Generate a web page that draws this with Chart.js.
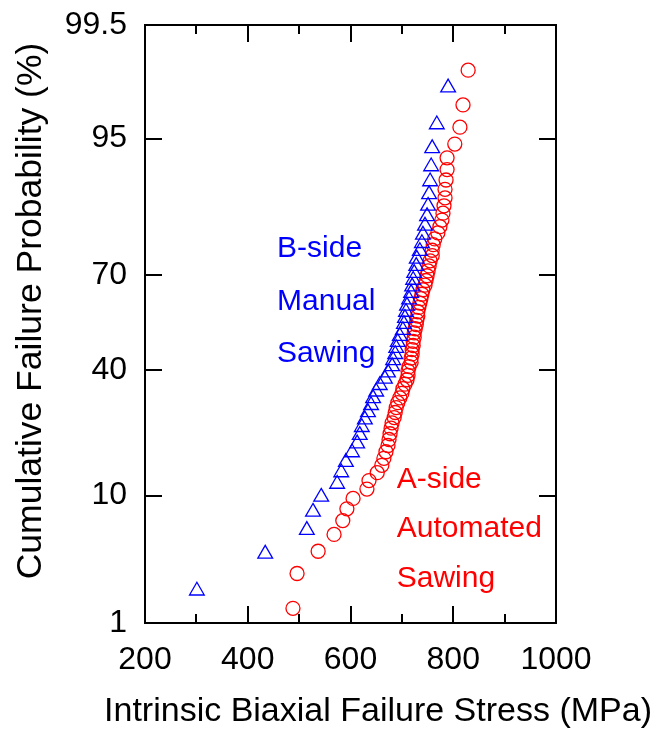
<!DOCTYPE html>
<html>
<head>
<meta charset="utf-8">
<script src="https://cdn.jsdelivr.net/npm/chart.js@4.4.1/dist/chart.umd.min.js"></script>
<style>
  html, body { margin: 0; padding: 0; background: #fff; }
  #chart { display: block; }
</style>
</head>
<body>
<canvas id="chart" width="665" height="730"></canvas>
<script>
// Data
// B-side, manual sawing: failure stress (MPa) and cumulative failure probability (%)
const bStress = [301, 434, 515, 527, 543, 574, 582, 591, 603, 613,
                 618, 622, 628, 634, 640, 644, 650, 657, 667, 673,
                 681, 683, 687, 689, 692, 696, 702, 704, 706, 708,
                 710, 714, 718, 720, 722, 724, 728, 729, 735, 739,
                 741, 745, 749, 751, 753, 755, 757, 759, 768, 790];
const bProb = [1.96, 3.92, 5.88, 7.84, 9.80, 11.76, 13.73, 15.69, 17.65, 19.61,
               21.57, 23.53, 25.49, 27.45, 29.41, 31.37, 33.33, 35.29, 37.25, 39.22,
               41.18, 43.14, 45.10, 47.06, 49.02, 50.98, 52.94, 54.90, 56.86, 58.82,
               60.78, 62.75, 64.71, 66.67, 68.63, 70.59, 72.55, 74.51, 76.47, 78.43,
               80.39, 82.35, 84.31, 86.27, 88.24, 90.20, 92.16, 94.12, 96.08, 98.04];

// A-side, automated sawing
const aStress = [488, 496, 537, 568, 585, 593, 605, 632, 636, 652,
                 661, 665, 669, 673, 675, 677, 679, 681, 685, 687,
                 689, 692, 696, 700, 702, 706, 710, 712, 712, 714,
                 718, 718, 720, 720, 722, 722, 724, 724, 726, 728,
                 729, 731, 731, 733, 735, 737, 739, 741, 745, 747,
                 749, 751, 753, 755, 759, 759, 761, 764, 770, 774,
                 778, 780, 782, 784, 784, 786, 788, 788, 803, 813,
                 819, 829];
const aProb = [1.37, 2.74, 4.11, 5.48, 6.85, 8.22, 9.59, 10.96, 12.33, 13.70,
               15.07, 16.44, 17.81, 19.18, 20.55, 21.92, 23.29, 24.66, 26.03, 27.40,
               28.77, 30.14, 31.51, 32.88, 34.25, 35.62, 36.99, 38.36, 39.73, 41.10,
               42.47, 43.84, 45.21, 46.58, 47.95, 49.32, 50.68, 52.05, 53.42, 54.79,
               56.16, 57.53, 58.90, 60.27, 61.64, 63.01, 64.38, 65.75, 67.12, 68.49,
               69.86, 71.23, 72.60, 73.97, 75.34, 76.71, 78.08, 79.45, 80.82, 82.19,
               83.56, 84.93, 86.30, 87.67, 89.04, 90.41, 91.78, 93.15, 94.52, 95.89,
               97.26, 98.63];

// Axis ticks
const xTicks = [200, 300, 400, 500, 600, 700, 800, 900, 1000];
const xLabelTicks = [200, 400, 600, 800, 1000];
const yTicks = [1, 10, 40, 70, 95, 99.5];

const FONT = '"Liberation Sans", Arial, sans-serif';

// inverse standard normal CDF (Acklam) -> probability paper
function probit(p) {
    const a = [-3.969683028665376e+01, 2.209460984245205e+02, -2.759285104469687e+02, 1.383577518672690e+02, -3.066479806614716e+01, 2.506628277459239e+00];
    const b = [-5.447609879822406e+01, 1.615858368580409e+02, -1.556989798598866e+02, 6.680131188771972e+01, -1.328068155288572e+01];
    const c = [-7.784894002430293e-03, -3.223964580411365e-01, -2.400758277161838e+00, -2.549732539343734e+00, 4.374664141464968e+00, 2.938163982698783e+00];
    const d = [7.784695709041462e-03, 3.224671290700398e-01, 2.445134137142996e+00, 3.754408661907416e+00];
    const pl = 0.02425;
    let q, r;
    if (p < pl) {
        q = Math.sqrt(-2 * Math.log(p));
        return (((((c[0]*q + c[1])*q + c[2])*q + c[3])*q + c[4])*q + c[5]) / ((((d[0]*q + d[1])*q + d[2])*q + d[3])*q + 1);
    }
    if (p > 1 - pl) {
        q = Math.sqrt(-2 * Math.log(1 - p));
        return -(((((c[0]*q + c[1])*q + c[2])*q + c[3])*q + c[4])*q + c[5]) / ((((d[0]*q + d[1])*q + d[2])*q + d[3])*q + 1);
    }
    q = p - 0.5;
    r = q * q;
    return (((((a[0]*r + a[1])*r + a[2])*r + a[3])*r + a[4])*r + a[5])*q / (((((b[0]*r + b[1])*r + b[2])*r + b[3])*r + b[4])*r + 1);
}

const toPoints = (xs, ps) => xs.map((x, i) => ({ x: x, y: probit(ps[i] / 100) }));

// labels inside the plot, placed in data units (stress, %)
const notes = [
    { text: 'B-side', x: 457, p: 77.0, color: '#0000ff' },
    { text: 'Manual', x: 457, p: 62.2, color: '#0000ff' },
    { text: 'Sawing', x: 457, p: 45.3, color: '#0000ff' },
    { text: 'A-side', x: 690, p: 12.5, color: '#ff0000' },
    { text: 'Automated', x: 690, p: 6.05, color: '#ff0000' },
    { text: 'Sawing', x: 690, p: 2.5, color: '#ff0000' }
];

// frame, inward ticks, axis titles and notes
const framePlugin = {
    id: 'frame',
    afterDraw(chart) {
        const ctx = chart.ctx;
        const { left, right, top, bottom } = chart.chartArea;
        const xs = chart.scales.x, ys = chart.scales.y;
        ctx.save();
        ctx.strokeStyle = '#000';
        ctx.lineWidth = 2;
        ctx.strokeRect(left, top, right - left, bottom - top);

        ctx.beginPath();
        xTicks.forEach(v => {
            const px = Math.round(xs.getPixelForValue(v));
            const len = xLabelTicks.includes(v) ? 17 : 9;
            ctx.moveTo(px, bottom); ctx.lineTo(px, bottom - len);
            ctx.moveTo(px, top); ctx.lineTo(px, top + len);
        });
        yTicks.forEach(p => {
            const py = Math.round(ys.getPixelForValue(probit(p / 100)));
            ctx.moveTo(left, py); ctx.lineTo(left + 17, py);
            ctx.moveTo(right, py); ctx.lineTo(right - 17, py);
        });
        ctx.stroke();

        // axis titles
        ctx.fillStyle = '#000';
        ctx.textAlign = 'center';
        ctx.textBaseline = 'middle';
        ctx.font = '34px ' + FONT;
        ctx.fillText('Intrinsic Biaxial Failure Stress (MPa)', 378, 712);
        ctx.save();
        ctx.translate(31, 311);
        ctx.rotate(-Math.PI / 2);
        ctx.font = '35.5px ' + FONT;
        ctx.fillText('Cumulative Failure Probability (%)', 0, 0);
        ctx.restore();

        // notes
        ctx.font = '30px ' + FONT;
        ctx.textAlign = 'left';
        notes.forEach(n => {
            ctx.fillStyle = n.color;
            ctx.fillText(n.text, xs.getPixelForValue(n.x), ys.getPixelForValue(probit(n.p / 100)));
        });
        ctx.restore();
    }
};

const tickFont = { family: FONT, size: 32 };

new Chart(document.getElementById('chart'), {
    type: 'scatter',
    data: {
        datasets: [
            {
                label: 'B-side Manual Sawing',
                data: toPoints(bStress, bProb),
                pointStyle: 'triangle',
                pointRadius: 8.5,
                borderColor: '#0000ff',
                backgroundColor: 'rgba(0,0,0,0)',
                borderWidth: 1.3
            },
            {
                label: 'A-side Automated Sawing',
                data: toPoints(aStress, aProb),
                pointStyle: 'circle',
                pointRadius: 7,
                borderColor: '#ff0000',
                backgroundColor: 'rgba(0,0,0,0)',
                borderWidth: 1.3
            }
        ]
    },
    options: {
        responsive: false,
        animation: false,
        layout: { padding: { left: 0, top: 25, right: 109, bottom: 0 } },
        plugins: { legend: { display: false }, tooltip: { enabled: false } },
        scales: {
            x: {
                type: 'linear',
                min: 200,
                max: 1000,
                afterBuildTicks: s => { s.ticks = xTicks.map(v => ({ value: v })); },
                afterFit: s => { s.height = 107; s.paddingLeft = 0; s.paddingRight = 0; },
                ticks: {
                    autoSkip: false,
                    maxRotation: 0,
                    padding: 18,
                    color: '#000',
                    font: tickFont,
                    callback: v => (xLabelTicks.includes(v) ? String(v) : '')
                },
                grid: { display: false, drawTicks: false },
                border: { display: false }
            },
            y: {
                type: 'linear',
                min: probit(yTicks[0] / 100),
                max: probit(yTicks[yTicks.length - 1] / 100),
                afterBuildTicks: s => { s.ticks = yTicks.map(p => ({ value: probit(p / 100) })); },
                afterFit: s => { s.width = 145; s.paddingTop = 0; s.paddingBottom = 0; },
                ticks: {
                    autoSkip: false,
                    padding: 18,
                    color: '#000',
                    font: tickFont,
                    callback: (v, i) => String(yTicks[i])
                },
                grid: { display: false, drawTicks: false },
                border: { display: false }
            }
        }
    },
    plugins: [framePlugin]
});
</script>
</body>
</html>
